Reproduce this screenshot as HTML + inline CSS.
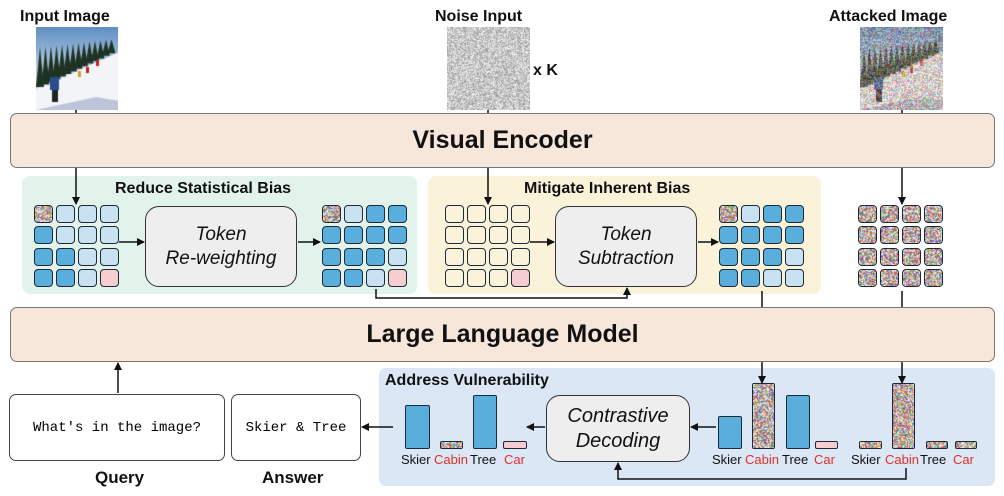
<!DOCTYPE html>
<html><head><meta charset="utf-8"><style>
body{margin:0;width:1004px;height:496px;background:#fff;position:relative;overflow:hidden;font-family:"Liberation Sans",sans-serif}
.a{position:absolute}
.t{position:absolute;font-weight:bold;color:#111;white-space:nowrap}
.bar{position:absolute;border:1.5px solid #1c2a3a;border-radius:2px;box-sizing:border-box;background:#5aaedc;overflow:hidden}
.big{position:absolute;left:10px;width:985px;height:55px;background:#f7e6da;border:1.5px solid #777;border-radius:7px;box-sizing:border-box;display:flex;align-items:center;justify-content:center;font-weight:bold;font-size:25px;color:#111}
.op{position:absolute;background:#eeeeee;border:1.5px solid #333;border-radius:14px;box-sizing:border-box;display:flex;align-items:center;justify-content:center;text-align:center;font-style:italic;font-size:19px;line-height:24px;color:#111}
.cell{position:absolute;width:19px;height:18px;border:1.5px solid #1c2a3a;border-radius:4px;box-sizing:border-box;overflow:hidden}
.lab{position:absolute;font-size:13px;color:#111;top:452px}
.r{color:#e0302a}
</style></head><body>
<div class="t" style="left:20px;top:8px;font-size:16px">Input Image</div>
<div class="t" style="left:435px;top:8px;font-size:16px">Noise Input</div>
<div class="t" style="left:829px;top:8px;font-size:16px">Attacked Image</div>
<div class="t" style="left:533px;top:62px;font-size:16px">x K</div>
<canvas id="img1" class="a" width="82" height="83" style="left:36px;top:27px"></canvas>
<canvas id="img2" class="a" width="83" height="83" style="left:447px;top:27px"></canvas>
<canvas id="img3" class="a" width="83" height="83" style="left:860px;top:27px"></canvas>

<div class="big" style="top:113px">Visual Encoder</div>
<div class="a" style="left:22px;top:176px;width:395px;height:118px;background:#e2f3ec;border-radius:8px"></div>
<div class="a" style="left:428px;top:176px;width:393px;height:118px;background:#fbf2da;border-radius:8px"></div>
<div class="t" style="left:115px;top:180px;font-size:16px">Reduce Statistical Bias</div>
<div class="t" style="left:524px;top:180px;font-size:16px">Mitigate Inherent Bias</div>
<div class="op" style="left:145px;top:206px;width:152px;height:81px">Token<br>Re-weighting</div>
<div class="op" style="left:555px;top:206px;width:142px;height:81px">Token<br>Subtraction</div>
<div id="grids"></div>

<div class="big" style="top:307px">Large Language Model</div>
<div class="a" style="left:379px;top:368px;width:616px;height:118px;background:#dbe7f4;border-radius:7px"></div>
<div class="t" style="left:385px;top:372px;font-size:16px">Address Vulnerability</div>
<div class="op" style="left:546px;top:395px;width:144px;height:67px;font-size:20px;line-height:25px">Contrastive<br>Decoding</div>

<div class="a" style="left:9px;top:394px;width:216px;height:67px;border:1.5px solid #444;border-radius:7px;box-sizing:border-box;background:#fff;display:flex;align-items:center;justify-content:center;font-family:'Liberation Mono',monospace;font-size:14px">What's in the image?</div>
<div class="a" style="left:231px;top:394px;width:130px;height:67px;border:1.5px solid #444;border-radius:7px;box-sizing:border-box;background:#fff;display:flex;align-items:center;justify-content:center;font-family:'Liberation Mono',monospace;font-size:14px">Skier &amp; Tree</div>
<div class="t" style="left:95px;top:468px;font-size:17px">Query</div>
<div class="t" style="left:262px;top:468px;font-size:17px">Answer</div>

<div id="bars"></div>

<svg class="a" style="left:0;top:0" width="1004" height="496">
<defs><marker id="m" markerWidth="8" markerHeight="8" refX="7" refY="4" orient="auto" markerUnits="userSpaceOnUse"><path d="M0,0L8,4L0,8z" fill="#111"/></marker></defs>
<g stroke="#111" stroke-width="1.5" fill="none">
<line x1="76" y1="110" x2="76" y2="113"/><line x1="488" y1="110" x2="488" y2="113"/><line x1="902" y1="110" x2="902" y2="113"/>
<line x1="76" y1="168" x2="76" y2="204" marker-end="url(#m)"/>
<line x1="488" y1="168" x2="488" y2="204" marker-end="url(#m)"/>
<line x1="902" y1="168" x2="902" y2="204" marker-end="url(#m)"/>
<line x1="119" y1="242" x2="144" y2="242" marker-end="url(#m)"/>
<line x1="298" y1="242" x2="320" y2="242" marker-end="url(#m)"/>
<line x1="530" y1="242" x2="554" y2="242" marker-end="url(#m)"/>
<line x1="698" y1="242" x2="718" y2="242" marker-end="url(#m)"/>
<polyline points="376,289 376,298 627,298 627,288" marker-end="url(#m)"/>
<line x1="762" y1="291" x2="762" y2="307"/><line x1="902" y1="291" x2="902" y2="307"/>
<line x1="118" y1="393" x2="118" y2="363" marker-end="url(#m)"/>
<line x1="762" y1="362" x2="762" y2="383" marker-end="url(#m)"/>
<line x1="902" y1="362" x2="902" y2="383" marker-end="url(#m)"/>
<line x1="716" y1="427" x2="691" y2="427" marker-end="url(#m)"/>
<line x1="545" y1="427" x2="527" y2="427" marker-end="url(#m)"/>
<line x1="393" y1="427" x2="362" y2="427" marker-end="url(#m)"/>
<polyline points="906,468 906,479 618,479 618,463" marker-end="url(#m)"/>
</g></svg>

<script>
function rnd(s){return function(){s=(s*16807)%2147483647;return s/2147483647}}
var R=rnd(12345);
function noise(ctx,w,h,colorful,alpha){
 for(var y=0;y<h;y+=1)for(var x=0;x<w;x+=1){
  var c;
  if(colorful){var k=R();c=k<0.2?[220,40,40]:k<0.35?[40,160,60]:k<0.5?[60,60,200]:k<0.6?[230,200,40]:[200+R()*55|0,200+R()*55|0,200+R()*55|0];}
  else{var g=150+R()*100|0;c=[g,g,g];}
  ctx.fillStyle='rgba('+c[0]+','+c[1]+','+c[2]+','+alpha+')';ctx.fillRect(x,y,1,1);
 }}
function scene(ctx){
 var g=ctx.createLinearGradient(0,0,0,83);g.addColorStop(0,'#5f8fc4');g.addColorStop(0.5,'#b8cde4');g.addColorStop(1,'#c8d4e6');
 ctx.fillStyle=g;ctx.fillRect(0,0,83,83);
 ctx.fillStyle='#f2f4f8';ctx.beginPath();ctx.moveTo(0,62);ctx.lineTo(83,25);ctx.lineTo(83,83);ctx.lineTo(0,83);ctx.fill();
 ctx.fillStyle='#1f3325';
 for(var i=0;i<14;i++){var x=4+i*5.5,base=60-i*2.6,h=40-i*2;ctx.beginPath();ctx.moveTo(x,base-h);ctx.lineTo(x-4,base);ctx.lineTo(x+4,base);ctx.fill();}
 ctx.fillStyle='rgba(90,110,160,0.35)';ctx.beginPath();ctx.moveTo(0,83);ctx.lineTo(60,70);ctx.lineTo(83,74);ctx.lineTo(83,83);ctx.fill();
 ctx.fillStyle='#2a4d8f';ctx.fillRect(14,50,9,13);ctx.fillStyle='#222';ctx.fillRect(16,63,6,12);
 ctx.fillStyle='#c02020';ctx.fillRect(50,40,3,6);ctx.fillRect(60,33,3,6);ctx.fillStyle='#d0a020';ctx.fillRect(42,44,3,6);
}
var c1=document.getElementById('img1').getContext('2d');scene(c1);
var c2=document.getElementById('img2').getContext('2d');noise(c2,83,83,false,1);
var c3=document.getElementById('img3').getContext('2d');scene(c3);noise(c3,83,83,true,0.45);
var D='#5aaedc',L='#c8e2f1',P='#f6cdd0',W='transparent',N='N';
var grids=[
 {x:34,c:[[N,L,L,L],[D,L,L,L],[D,D,L,L],[D,D,L,P]]},
 {x:322,c:[[N,L,D,D],[D,D,D,D],[D,D,D,L],[D,D,L,P]]},
 {x:445,c:[[W,W,W,W],[W,W,W,W],[W,W,W,W],[W,W,W,P]]},
 {x:719,c:[[N,L,D,D],[D,D,D,D],[D,D,D,L],[D,D,L,L]]},
 {x:858,c:[[N,N,N,N],[N,N,N,N],[N,N,N,N],[N,N,N,N]]}];
var gd=document.getElementById('grids');
function noiseEl(w,h){var cv=document.createElement('canvas');cv.width=w;cv.height=h;var x=cv.getContext('2d');x.fillStyle='#ddd';x.fillRect(0,0,w,h);noise(x,w,h,true,0.75);cv.style.cssText='width:100%;height:100%;display:block';return cv;}
grids.forEach(function(g){for(var r=0;r<4;r++)for(var c=0;c<4;c++){var d=document.createElement('div');d.className='cell';d.style.left=(g.x+c*22)+'px';d.style.top=(205+r*21.3)+'px';var v=g.c[r][c];if(v==N){d.appendChild(noiseEl(16,15));}else d.style.background=v;gd.appendChild(d);}});
var bars=[[405,25,405,'D'],[440,23,441,'N'],[473,24,395,'D'],[503,24,441,'P'],
 [718,24,416,'D'],[752,23,383,'N'],[786,24,395,'D'],[815,23,441,'P'],
 [859,23,441,'N'],[892,23,383,'N'],[926,22,441,'N'],[955,22,441,'N']];
var bd=document.getElementById('bars');
bars.forEach(function(b){var d=document.createElement('div');d.className='bar';d.style.left=b[0]+'px';d.style.width=b[1]+'px';d.style.top=b[2]+'px';d.style.height=(449-b[2])+'px';
 if(b[3]=='N'){d.style.background='#ddd';d.appendChild(noiseEl(b[1]-3,449-b[2]-3));}else if(b[3]=='P')d.style.background=P;bd.appendChild(d);});
var labs=[[401,'Skier',0],[434,'Cabin',1],[470,'Tree',0],[504,'Car',1],[712,'Skier',0],[745,'Cabin',1],[782,'Tree',0],[814,'Car',1],[851,'Skier',0],[885,'Cabin',1],[920,'Tree',0],[953,'Car',1]];
labs.forEach(function(l){var s=document.createElement('div');s.className='lab'+(l[2]?' r':'');s.style.left=l[0]+'px';s.textContent=l[1];bd.appendChild(s);});
</script>
</body></html>
